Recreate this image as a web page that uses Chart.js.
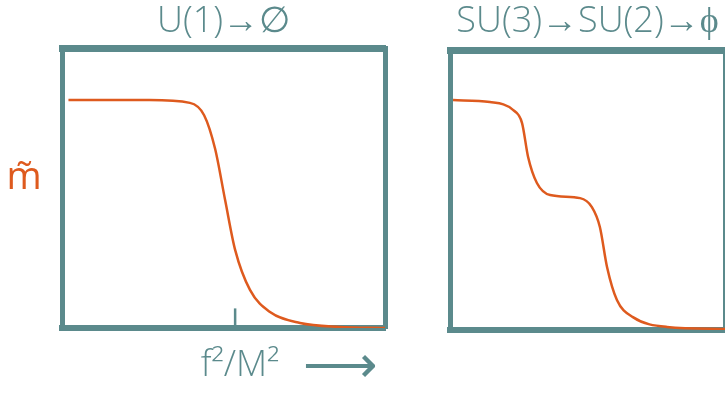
<!DOCTYPE html>
<html>
<head>
<meta charset="utf-8">
<script src="https://cdn.jsdelivr.net/npm/chart.js@4/dist/chart.umd.min.js"></script>
<style>
  body { margin: 0; background: #fff; }
  #wrap { position: relative; width: 725px; height: 394px; overflow: hidden; }
  canvas { position: absolute; top: 0; }
</style>
</head>
<body>
<div id="wrap">
  <canvas id="left" style="left:0px"></canvas>
  <canvas id="right" style="left:420px"></canvas>
</div>
<script>
const teal = "#5b8a8c";
const orange = "#de5a1e";

// U(1) -> nothing: one step
const leftX = [0.02, 0.27, 0.396, 0.44, 0.474, 0.505, 0.536, 0.582, 0.644, 0.737, 0.86, 1.0];
const leftY = [0.814, 0.814, 0.804, 0.76, 0.64, 0.457, 0.279, 0.136, 0.057, 0.018, 0.004, 0.0];

// SU(3) -> SU(2) -> nothing: two steps
const rightX = [0.011, 0.145, 0.229, 0.262, 0.284, 0.316, 0.364, 0.473, 0.516, 0.545, 0.571, 0.607, 0.665, 0.789, 1.0];
const rightY = [0.821, 0.814, 0.786, 0.739, 0.618, 0.525, 0.482, 0.471, 0.439, 0.368, 0.225, 0.107, 0.046, 0.011, 0.004];

// small tick on the left x axis
const tickX = [0.536, 0.536];
const tickY = [0.0, 0.07];

const titles = ["U(1)\u2192\u2205", "SU(3)\u2192SU(2)\u2192\u03d5"];
const yLabel = "m\u0303";
const xLabel = "f\u00b2/M\u00b2";

function pts(xs, ys) {
  return xs.map((x, i) => ({ x: x, y: ys[i] }));
}

function axis(pos, w) {
  return {
    type: "linear",
    position: pos,
    min: 0,
    max: 1,
    ticks: { display: false },
    grid: { display: false, drawTicks: false },
    border: { display: true, color: teal, width: w },
  };
}

const textPlugin = {
  id: "sketchText",
  afterDraw(chart) {
    const ctx = chart.ctx;
    const a = chart.chartArea;
    const o = chart.options.plugins.sketchText;
    ctx.save();
    ctx.textBaseline = "middle";
    ctx.textAlign = "center";
    ctx.fillStyle = teal;
    ctx.font = "300 36px 'Open Sans'";
    ctx.fillText(o.title, (a.left + a.right) / 2 + o.titleDx, 22);
    if (o.side) {
      ctx.fillStyle = orange;
      ctx.font = "38px 'Open Sans'";
      ctx.fillText(yLabel, 24, 178);
      ctx.fillStyle = teal;
      ctx.font = "300 36px 'Open Sans'";
      ctx.fillText(xLabel, 240, 366);
      ctx.font = "300 52px 'DejaVu Sans'";
      ctx.fillText("\u27f6", 340, 368);
    }
    ctx.restore();
  },
};

function makeChart(id, width, data, extra, opts) {
  const el = document.getElementById(id);
  el.width = width;
  el.height = 394;
  el.style.width = width + "px";
  el.style.height = "394px";
  const datasets = [
    {
      data: data,
      borderColor: orange,
      borderWidth: 2.5,
      pointRadius: 0,
      cubicInterpolationMode: "monotone",
      showLine: true,
    },
  ];
  if (extra) {
    datasets.push({
      data: extra,
      borderColor: teal,
      borderWidth: 2.5,
      pointRadius: 0,
      showLine: true,
    });
  }
  return new Chart(el, {
    type: "scatter",
    data: { datasets: datasets },
    options: {
      responsive: false,
      animation: false,
      layout: { padding: opts.padding },
      scales: {
        x: axis("bottom", 6),
        x2: axis("top", 7),
        y: axis("left", 5),
        y2: axis("right", 5),
      },
      plugins: {
        legend: { display: false },
        tooltip: { enabled: false },
        sketchText: opts.text,
      },
    },
    plugins: [textPlugin],
  });
}

makeChart("left", 420, pts(leftX, leftY), pts(tickX, tickY), {
  padding: { left: 62, right: 35, top: 48, bottom: 66 },
  text: { title: titles[0], titleDx: 0, side: true },
});

makeChart("right", 305, pts(rightX, rightY), null, {
  padding: { left: 30, right: 0, top: 50, bottom: 64 },
  text: { title: titles[1], titleDx: 0, side: false },
});
</script>
</body>
</html>
